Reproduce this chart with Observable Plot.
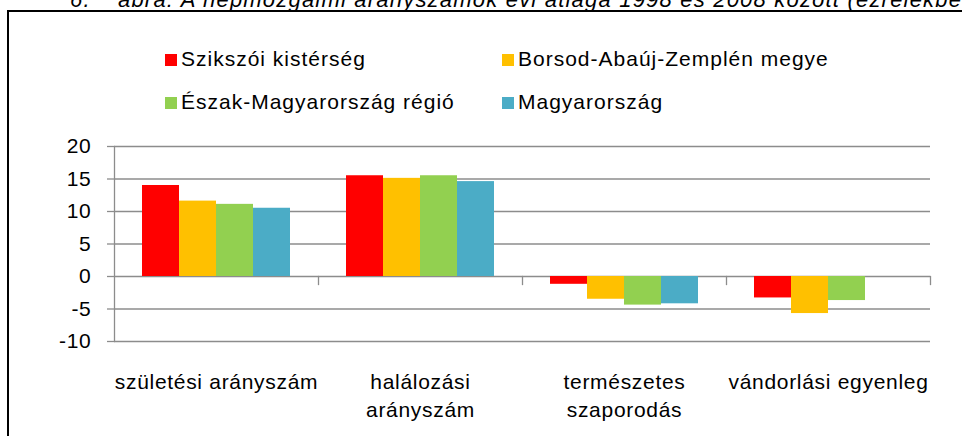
<!DOCTYPE html>
<html><head><meta charset="utf-8">
<script src="https://cdn.jsdelivr.net/npm/d3@7"></script>
<script src="https://cdn.jsdelivr.net/npm/@observablehq/plot@0.6"></script>
<style>
body{margin:0;background:#fff;}
#wrap{position:relative;width:962px;height:436px;overflow:hidden;font-family:"Liberation Sans",Arial,sans-serif;color:#000;}
#title{position:absolute;left:70px;top:-11px;font-size:22px;line-height:21px;font-style:italic;white-space:nowrap;letter-spacing:1.2px;}
#title .num{display:inline-block;width:48px;}
#box{position:absolute;left:7px;top:10px;width:1100px;height:600px;border:2px solid #000;box-sizing:border-box;}
#legend{position:absolute;left:0;top:0;font-size:21px;letter-spacing:1px;}
.item{position:absolute;white-space:nowrap;line-height:21px;}
.sw{display:inline-block;width:12px;height:12px;margin-right:4px;vertical-align:0px;}
#chart{position:absolute;left:0;top:0;}
</style></head><body>
<div id="wrap">
  <div id="title"><span class="num">6.</span>ábra: A népmozgalmi arányszámok évi átlaga 1998 és 2008 között (ezrelékben)</div>
  <div id="box"></div>
  <div id="chart"></div>
  <div id="legend"></div>
</div>
<script>
const categories = ["születési arányszám", "halálozási arányszám", "természetes szaporodás", "vándorlási egyenleg"];
const categoryLabels = ["születési arányszám", "halálozási\narányszám", "természetes\nszaporodás", "vándorlási egyenleg"];
const series = ["Szikszói kistérség", "Borsod-Abaúj-Zemplén megye", "Észak-Magyarország régió", "Magyarország"];
const colors = ["#FF0000", "#FFC000", "#92D050", "#4BACC6"];
const szikszoi = [14.0, 15.5, -1.2, -3.3];
const baz = [11.6, 15.1, -3.5, -5.7];
const eszak = [11.1, 15.5, -4.4, -3.7];
const magyarorszag = [10.5, 14.6, -4.2, null];
const yTicks = [-10, -5, 0, 5, 10, 15, 20];

const seriesValues = [szikszoi, baz, eszak, magyarorszag];
const data = [];
categories.forEach((c, i) => seriesValues.forEach((vals, j) => {
  if (vals[i] != null) data.push({cat: c, series: series[j], value: vals[i]});
}));

const W = 962, H = 436, mT = 146, mB = 95, mL = 113, mR = 32;
const yScale = Plot.scale({y: {domain: [-10, 20], range: [H - mB, mT]}});
const zeroInset = yScale.apply(0) - mT;
const tickBottom = (H - mB) - (yScale.apply(0) + 8);

const grey = "#8c8c8c";
const font = "'Liberation Sans', Arial, sans-serif";
const chart = Plot.plot({
  width: W, height: H,
  marginLeft: mL, marginRight: mR, marginTop: mT, marginBottom: mB,
  style: {fontFamily: font, fontSize: "21px", letterSpacing: "0.7px", color: "#000", background: "transparent", overflow: "visible"},
  fx: {domain: categories, padding: 0, axis: null},
  x: {domain: series, paddingInner: 0, paddingOuter: 0.74, axis: null},
  y: {domain: [-10, 20], axis: null},
  color: {domain: series, range: colors},
  marks: [
    Plot.gridY(yTicks, {stroke: grey, strokeOpacity: 1, strokeWidth: 1.3}),
    Plot.axisY(yTicks, {tickSize: 7, tickPadding: 16, stroke: grey, strokeWidth: 1.3, fill: "#000", fontSize: 21, tickFormat: d => d, label: null}),
    Plot.frame({anchor: "left", facetAnchor: "left", stroke: grey, strokeWidth: 1.3}),
    Plot.frame({anchor: "right", stroke: grey, strokeWidth: 1.3, insetTop: zeroInset, insetBottom: tickBottom}),
    Plot.barY(data, {fx: "cat", x: "series", y: "value", fill: "series"}),
    Plot.text(categories, {fx: d => d, text: (d, i) => categoryLabels[i], frameAnchor: "bottom", lineAnchor: "top", dy: 28, fontSize: 21, lineHeight: 1.33, fill: "#000"})
  ]
});
document.getElementById("chart").appendChild(chart);

const legendPos = [[165, 48], [502, 48], [165, 91], [502, 91]];
const legend = document.getElementById("legend");
series.forEach((s, i) => {
  const el = document.createElement("div");
  el.className = "item";
  el.style.left = legendPos[i][0] + "px";
  el.style.top = legendPos[i][1] + "px";
  el.innerHTML = `<span class="sw" style="background:${colors[i]}"></span>${s}`;
  legend.appendChild(el);
});
</script>
</body></html>
